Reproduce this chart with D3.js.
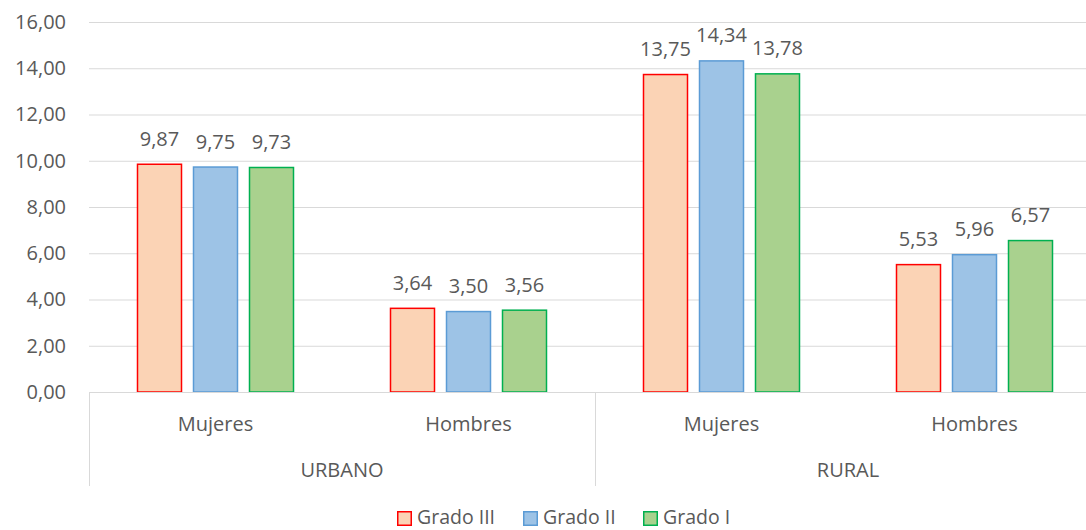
<!DOCTYPE html>
<html><head><meta charset="utf-8">
<script src="https://cdn.jsdelivr.net/npm/d3@7"></script>
<style>body{margin:0;background:#fff}svg{display:block}text{font-family:"Open Sans",sans-serif;fill:#595959}</style>
</head><body><svg width="1086" height="530"></svg>
<script>
const groups = ["URBANO","URBANO","RURAL","RURAL"];
const subcats = ["Mujeres","Hombres","Mujeres","Hombres"];
const seriesNames = ["Grado III","Grado II","Grado I"];
const gradoIII = [9.87,3.64,13.75,5.53];
const gradoII = [9.75,3.50,14.34,5.96];
const gradoI = [9.73,3.56,13.78,6.57];
const yTicks = [0,2,4,6,8,10,12,14,16];

(function(){
const series = [gradoIII,gradoII,gradoI];
const fills = ["#FBD3B5","#9DC3E6","#A9D18E"];
const strokes = ["#FF0000","#5B9BD5","#00B050"];
const fmt = v => d3.format(".2f")(v).replace(".", ",");

const svg = d3.select("svg");
const pL = 89, pR = 1101, pT = 22, pB = 392;
const y = d3.scaleLinear().domain([0,16]).range([pB, pT]);
const x0 = d3.scaleBand().domain(d3.range(4)).range([pL,pR]).paddingInner(0).paddingOuter(0);
const bandW = x0.bandwidth();
const barW = 45, gap = 11;
const groupW = 3*barW+2*gap;
const x1 = d3.scaleBand().domain(d3.range(3)).range([0, groupW]).paddingInner(gap/(barW+gap));

svg.append("g").selectAll("line").data(yTicks.slice(1)).join("line")
  .attr("x1",pL).attr("x2",pR).attr("y1",d=>y(d)+0.5).attr("y2",d=>y(d)+0.5)
  .attr("stroke","#d9d9d9").attr("stroke-width",1);

const yAxis = d3.axisLeft(y).tickValues(yTicks).tickFormat(fmt).tickSize(0).tickPadding(23);
const ya = svg.append("g").attr("transform",`translate(${pL},0)`).call(yAxis);
ya.select(".domain").remove();
ya.selectAll("text").style("font-size","20px").attr("fill","#595959").style("font-family","'Open Sans',sans-serif");

series.forEach((s,si)=>{
  svg.append("g").selectAll("rect").data(s).join("rect")
    .attr("x",(d,i)=>x0(i)+(bandW-groupW)/2+x1(si)+0.5)
    .attr("y",d=>y(d)+0.5)
    .attr("width",x1.bandwidth()-1)
    .attr("height",d=>pB-y(d)-0.5)
    .attr("fill",fills[si]).attr("stroke",strokes[si]).attr("stroke-width",1.5);
  svg.append("g").selectAll("text").data(s).join("text")
    .attr("x",(d,i)=>x0(i)+(bandW-groupW)/2+x1(si)+x1.bandwidth()/2)
    .attr("y",d=>y(d)-18)
    .attr("text-anchor","middle").style("font-size","20px").text(fmt);
});

svg.append("line").attr("x1",pL).attr("x2",pR).attr("y1",pB+0.5).attr("y2",pB+0.5).attr("stroke","#d9d9d9");
[0,2].forEach(i=>{
  const xx = x0(i);
  svg.append("line").attr("x1",xx+0.5).attr("x2",xx+0.5).attr("y1",pB).attr("y2",486).attr("stroke","#d9d9d9");
});
svg.append("g").selectAll("text").data(subcats).join("text")
  .attr("x",(d,i)=>x0(i)+bandW/2).attr("y",431).attr("text-anchor","middle")
  .style("font-size","20px").text(d=>d);
const gnames = ["URBANO","RURAL"];
svg.append("g").selectAll("text").data(gnames).join("text")
  .attr("x",(d,i)=>x0(i*2)+bandW).attr("y",477).attr("text-anchor","middle")
  .style("font-size","20px").text(d=>d);

const legX = [397,523,643];
const lg = svg.append("g");
seriesNames.forEach((n,i)=>{
  lg.append("rect").attr("x",legX[i]+0.75).attr("y",511.75).attr("width",13.5).attr("height",13.5)
    .attr("fill",fills[i]).attr("stroke",strokes[i]).attr("stroke-width",1.5);
  lg.append("text").attr("x",legX[i]+20).attr("y",524).style("font-size",  "19.5px").text(n);
});
})();
</script></body></html>
